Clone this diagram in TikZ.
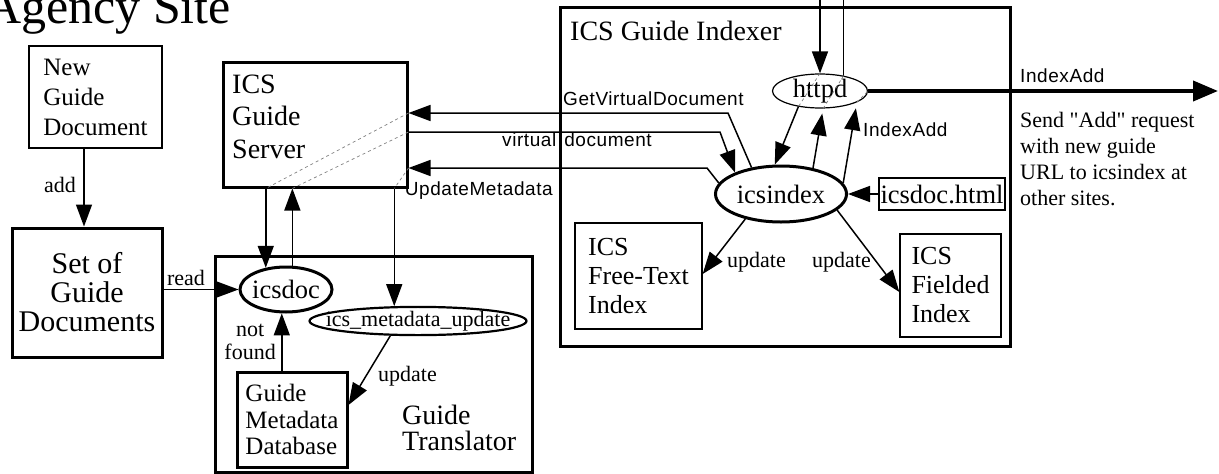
\documentclass[tikz,border=0pt]{standalone}
\usepackage{fontspec}
\setmainfont{Liberation Serif}
\newfontfamily\lblfont{Liberation Sans}[LetterSpace=3]
\newfontfamily\notexserif{Liberation Serif}[Ligatures=TeXOff]
\usetikzlibrary{arrows.meta,shapes.geometric}
% zero-width text so an oval is sized by its minimum width only
\newcommand\ovaltext[1]{\makebox[0pt]{#1}}

\begin{document}
\begin{tikzpicture}[x=1pt,y=-1pt,
  thinbox/.style={draw, line width=1.3pt, inner sep=0pt, align=left},
  thickbox/.style={draw, line width=3pt, inner sep=0pt, align=left},
  oval/.style={ellipse, draw, inner sep=0pt, font=\fontsize{26.5}{30}\selectfont},
  conn/.style={line width=1.5pt},
  arr/.style={conn, -{Triangle[length=22pt,width=16pt]}},
  hidden/.style={draw=gray, line width=0.7pt, dash pattern=on 3pt off 3pt},
  edgelbl/.style={inner sep=0pt, font=\fontsize{22}{23}\selectfont},
  msglbl/.style={inner sep=0pt, font=\lblfont\fontsize{19}{22}\selectfont},
  plain/.style={inner sep=0pt}]
\useasboundingbox (0,0) rectangle (1219,474);

% site title
\node[plain, anchor=base east, font=\fontsize{50}{55}\selectfont] (title) at (231,23) {Agency Site};

% containers
\node[thickbox, minimum width=450pt, minimum height=339pt] (indexer) at (785,176.5) {};
\node[plain, anchor=base west, font=\fontsize{28}{32}\selectfont] (indexerT) at (570,40) {ICS Guide Indexer};
\node[thickbox, minimum width=317pt, minimum height=216pt] (translator) at (373.5,364) {};
\node[plain, anchor=north west, align=left, font=\fontsize{28}{25.5}\selectfont] (translatorT) at (402,405) {Guide\\Translator};

% document stores and servers
\node[thinbox, minimum width=133pt, minimum height=102pt, font=\fontsize{25}{30}\selectfont] (ngd) at (95.5,97) {New\\Guide\\Document};
\node[thickbox, align=center, minimum width=150pt, minimum height=129pt, font=\fontsize{30}{29}\selectfont] (sgd) at (87,292.5) {Set of\\Guide\\Documents};
\node[thickbox, minimum width=184pt, minimum height=125pt] (server) at (315,124.5) {};
\node[plain, anchor=north west, align=left, font=\fontsize{28}{32.5}\selectfont] (serverT) at (232,74.5) {ICS\\Guide\\Server};
\node[thickbox, minimum width=110pt, minimum height=95pt, font=\fontsize{25}{26.5}\selectfont] (gmd) at (292,419.5) {Guide\\Metadata\\Database};
\node[thinbox, minimum width=127pt, minimum height=106pt, font=\fontsize{26}{29}\selectfont] (fti) at (638.5,276) {ICS\\Free-Text\\Index};
\node[thinbox, minimum width=101pt, minimum height=103pt, font=\fontsize{26}{29}\selectfont] (fie) at (950.5,285.5) {ICS\\Fielded\\Index};
\node[thinbox, minimum width=126pt, minimum height=32pt, font=\fontsize{26.5}{30}\selectfont] (idh) at (942,194) {icsdoc.html};

% processes
\node[oval, line width=1.2pt, minimum width=95pt, minimum height=32pt] (httpd) at (820,91) {\ovaltext{httpd}};
\node[oval, line width=3pt, minimum width=131pt, minimum height=56pt] (icsindex) at (781,194) {\ovaltext{icsindex}};
\node[oval, line width=3pt, minimum width=92pt, minimum height=45pt] (icsdoc) at (286,289.5) {\ovaltext{icsdoc}};
\node[oval, line width=2.2pt, minimum width=217pt, minimum height=28pt, font=\fontsize{22}{24}\selectfont] (imu) at (418,321) {\ovaltext{ics\_metadata\_update}};

% local document flow
\draw[arr] ([xshift=-11.5pt]ngd.south) -- ([xshift=-3pt]sgd.north);
\node[edgelbl, anchor=base east] (addL) at (76,192) {add};
\draw[arr] (sgd.east |- icsdoc.west) -- (icsdoc.west);
\node[edgelbl, anchor=base] (readL) at (186,285) {read};
\draw[arr] (icsdoc.260 |- gmd.north) -- (icsdoc.260);
\node[edgelbl, anchor=north east, align=center] (notfoundL) at (276,324) {not\\found};
\draw[arr] (imu.208) -- ([yshift=14.5pt]gmd.east);
\node[edgelbl, anchor=base west] (upd1) at (378,381) {update};

% requests routed through the guide server
\coordinate (gvdBend) at (728,113);
\coordinate (vdBend) at (720,132);
\coordinate (umBend) at (707,168);

\draw[arr] (icsindex.138) -- (gvdBend) -- (gvdBend -| server.east);
\draw[hidden] (gvdBend -| server.east) -- (icsdoc.133 |- server.south);
\draw[arr] (icsdoc.133 |- server.south) -- (icsdoc.133);

\draw[arr] (icsdoc.75) -- (icsdoc.75 |- server.south);
\draw[hidden] (icsdoc.75 |- server.south) -- (vdBend -| server.east);
\draw[arr] (vdBend -| server.east) -- (vdBend) -- (icsindex.155);

\draw[arr] (icsindex.170) -- (umBend) -- (umBend -| server.east);
\draw[hidden] (umBend -| server.east) -- (imu.148 |- server.south);
\draw[arr] (imu.148 |- server.south) -- (imu.148);

\node[msglbl, anchor=base west] (gvdL) at (563,105) {GetVirtualDocument};
\node[msglbl, anchor=base west] (vdL) at (502,146) {virtual\hspace{8pt}document};
\node[msglbl, anchor=base east] (umL) at (553,195) {UpdateMetadata};

% web server traffic
\coordinate (topIn) at (820,-2);
\coordinate (topOut) at (842,-2);
\draw[arr] (httpd.north |- topIn) -- (httpd.north);
\draw[conn] (httpd.33) -- (httpd.33 |- topOut);
\draw[hidden] (httpd.north) -- (httpd.216);
\draw[hidden] (httpd.280) -- (httpd.33);
\draw[hidden] (httpd.343) -- (httpd.east);

\draw[arr] (httpd.216) -- (icsindex.102);
\draw[arr, shorten >=5pt] (icsindex.39) -- (httpd.280);
\draw[arr, shorten >=6pt] (icsindex.10) -- (httpd.343);
\node[msglbl, anchor=base west] (iaL1) at (863,136) {IndexAdd};

\coordinate (remote) at (1218,91);
\draw[line width=4pt, -{Triangle[length=25pt,width=20pt]}] (httpd.east) -- (remote);
\node[msglbl, anchor=base west] (iaL2) at (1020,82) {IndexAdd};
\node[plain, anchor=north west, align=left, font=\notexserif\fontsize{22}{26}\selectfont] (sendT) at (1020,112) {Send "Add" request\\with new guide\\URL to icsindex at\\other sites.};

% indexer inputs and outputs
\draw[arr] (idh.west) -- (icsindex.east);
\draw[arr] (icsindex.215) -- ([yshift=2pt]fti.east);
\node[edgelbl, anchor=base west] (upd2) at (727,267) {update};
\draw[arr] (icsindex.344) -- ([yshift=-6.5pt]fie.west);
\node[edgelbl, anchor=base west] (upd3) at (812,267) {update};
\end{tikzpicture}
\end{document}
